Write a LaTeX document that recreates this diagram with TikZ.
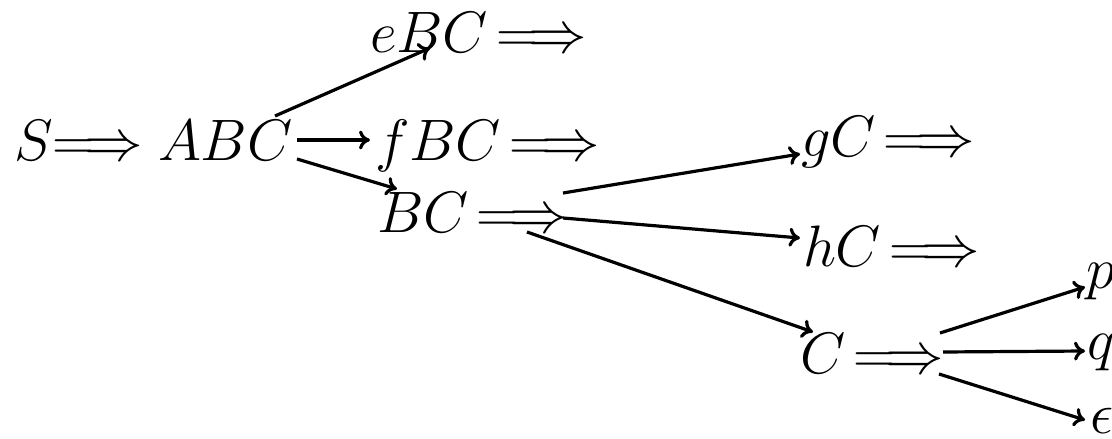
\documentclass[tikz,border=0pt]{standalone}
\usepackage{fix-cm}
\usetikzlibrary{arrows.meta}

% a derivation step: thin gap, then the long double arrow
\newcommand\drv{\mskip2.5mu{\Longrightarrow}}

\tikzset{
  term/.style={inner sep=0pt, outer sep=0pt, anchor=base west,
    font=\fontsize{58.5}{70}\selectfont},
  derive/.style={line width=3.2pt, -{To[length=11pt,width=19pt]}},
}

\begin{document}
\begin{tikzpicture}[x=1pt, y=-1pt]
  \useasboundingbox (0,0) rectangle (1112,439);

  % sentential forms, placed on their baselines
  \node[term] (s)   at (14,160)   {$S{\Longrightarrow}$};
  \node[term] (abc) at (158,160)  {$ABC$};
  \node[term] (ebc) at (370,52)   {$eBC\drv$};
  \node[term] (fbc) at (375,160)  {$fBC\drv$};
  \node[term] (bc)  at (377,232)  {$BC\drv$};
  \node[term] (gc)  at (801,156)  {$gC\drv$};
  \node[term] (hc)  at (803,266)  {$hC\drv$};
  \node[term] (c)   at (800,373)  {$C\drv$};
  \node[term] (p)   at (1086,288) {$p$};
  \node[term] (q)   at (1087,359) {$q$};
  \node[term] (eps) at (1090,433) {$\epsilon$};

  % expansions of ABC
  \draw[derive] ([shift={(117,-44)}]abc.base west) -- ([shift={(60,-4)}]ebc.base west);
  \draw[derive] ([shift={(139,-20)}]abc.base west) -- ([shift={(-5,-20)}]fbc.base west);
  \draw[derive] ([shift={(139,-1)}]abc.base west)  -- ([shift={(20,-43)}]bc.base west);

  % expansions of BC
  \draw[derive] ([shift={(186,-39)}]bc.base west) -- ([shift={(-1,-2)}]gc.base west);
  \draw[derive] ([shift={(186,-14)}]bc.base west) -- ([shift={(-3,-28)}]hc.base west);
  \draw[derive] ([shift={(150,0)}]bc.base west)   -- ([shift={(13,-41)}]c.base west);

  % expansions of C
  \draw[derive] ([shift={(140,-40)}]c.base west) -- ([shift={(-1,-1)}]p.base west);
  \draw[derive] ([shift={(143,-21)}]c.base west) -- ([shift={(-2,-8)}]q.base west);
  \draw[derive] ([shift={(139,1)}]c.base west)   -- ([shift={(-5,-13)}]eps.base west);
\end{tikzpicture}
\end{document}
